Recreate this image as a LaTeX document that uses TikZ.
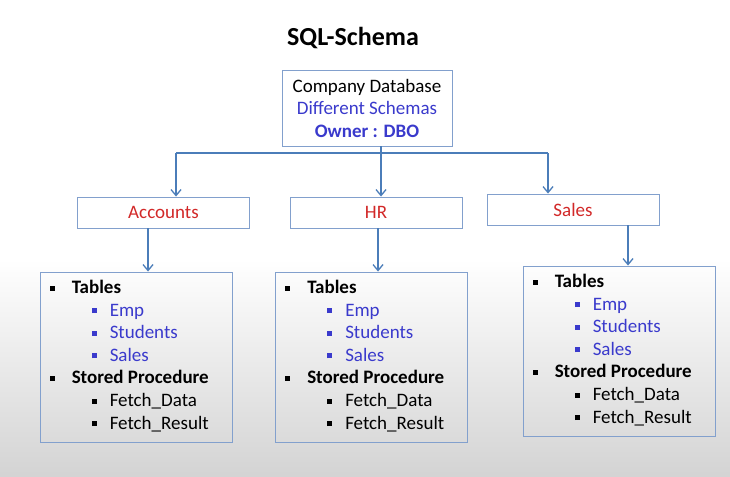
\documentclass[tikz,border=0pt]{standalone}
\usepackage{fontspec}
\setmainfont{Carlito}
\usepackage{array}
\usetikzlibrary{arrows.meta,positioning}

\definecolor{schemablue}{RGB}{58,58,204}
\definecolor{schemared}{RGB}{210,40,40}
\definecolor{boxline}{RGB}{130,160,205}
\definecolor{linkline}{RGB}{75,125,185}

\tikzset{
  schemabox/.style={draw=boxline, line width=0.9pt, minimum width=172pt, minimum height=31pt, inner sep=0pt,
    font=\fontsize{19}{22}\selectfont, text=schemared},
  listbox/.style={draw=boxline, line width=0.9pt, minimum width=192pt, minimum height=170pt, inner sep=0pt},
  listtext/.style={anchor=north west, inner sep=0pt, font=\fontsize{19}{22.6}\selectfont},
  link/.style={draw=linkline, line width=1.3pt},
  linkarrow/.style={link, -{Straight Barb[length=6pt, width=10pt, line width=1.3pt]}}
}

\newcommand{\sqbullet}[1]{\textcolor{#1}{\raisebox{3pt}{\rule{5pt}{5pt}}}}
\newcommand{\schemalist}{%
  \renewcommand{\arraystretch}{1}%
  \begin{tabular}{@{}p{22pt}@{}p{20pt}@{}p{18pt}@{}l@{}}
    \sqbullet{black} & \multicolumn{3}{@{}l@{}}{\textbf{Tables}}\\
    & & \sqbullet{schemablue} & \textcolor{schemablue}{Emp}\\
    & & \sqbullet{schemablue} & \textcolor{schemablue}{Students}\\
    & & \sqbullet{schemablue} & \textcolor{schemablue}{Sales}\\
    \sqbullet{black} & \multicolumn{3}{@{}l@{}}{\textbf{Stored Procedure}}\\
    & & \sqbullet{black} & Fetch\_Data\\
    & & \sqbullet{black} & Fetch\_Result\\
  \end{tabular}}

\begin{document}
\begin{tikzpicture}[x=1pt, y=-1pt]
  % background
  \useasboundingbox (0,0) rectangle (730,476);
  \fill[white] (0,0) rectangle (730,260);
  \shade[top color=white, bottom color=black!17] (0,259) rectangle (730,476);

  \node[font=\fontsize{26}{29}\selectfont\bfseries] (title) at (353,38) {SQL-Schema};

  % database node
  \node[draw=boxline, line width=0.9pt, minimum width=170pt, minimum height=76pt, align=center,
    font=\fontsize{19}{22.5}\selectfont] (db) at (367,108)
    {Company Database\\ \textcolor{schemablue}{Different Schemas}\\ \textcolor{schemablue}{\textbf{Owner : DBO}}};

  % schemas
  \node[schemabox] (acc) at (163.5,212.5) {Accounts};
  \node[schemabox] (hr) at (376,212.5) {HR};
  \node[schemabox] (sales) at (573,209.5) {Sales};

  % object lists
  \node[listbox] (accList) at (136,357) {};
  \node[listbox] (hrList) at (371.5,357) {};
  \node[listbox] (salesList) at (619,351) {};
  \node[listtext] (accItems) at ([xshift=10pt, yshift=-6pt]accList.north west) {\schemalist};
  \node[listtext] (hrItems) at ([xshift=10pt, yshift=-6pt]hrList.north west) {\schemalist};
  \node[listtext] (salesItems) at ([xshift=10pt, yshift=-6pt]salesList.north west) {\schemalist};

  % connectors
  \coordinate (jL) at (176,153);
  \coordinate (jR) at (548,153);
  \draw[link] (jL) -- (jR);
  \draw[linkarrow] ([xshift=14pt]db.south) -- ([xshift=14pt]db.south |- hr.north);
  \draw[linkarrow] (jL) -- (jL |- acc.north);
  \draw[linkarrow] (jR) -- (jR |- sales.north);
  \draw[linkarrow] ([xshift=-15.5pt]acc.south) -- ([xshift=-15.5pt]acc.south |- accList.north);
  \draw[linkarrow] ([xshift=2pt]hr.south) -- ([xshift=2pt]hr.south |- hrList.north);
  \draw[linkarrow] ([xshift=55pt]sales.south) -- ([xshift=55pt]sales.south |- salesList.north);
\end{tikzpicture}
\end{document}
